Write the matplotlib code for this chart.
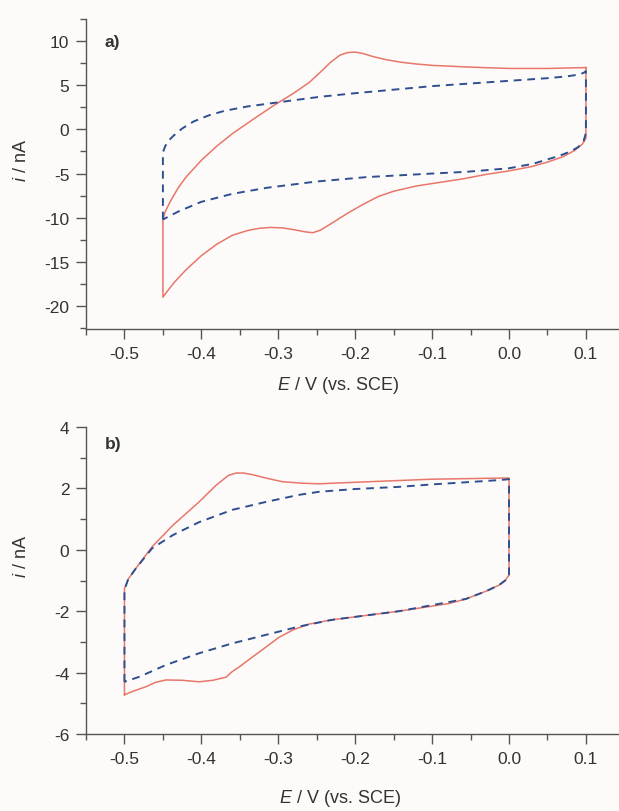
import matplotlib
matplotlib.use("Agg")
import matplotlib.pyplot as plt
from matplotlib.ticker import MultipleLocator, FormatStrFormatter

plt.rcParams['font.family'] = ['Liberation Sans', 'DejaVu Sans']
plt.rcParams['mathtext.fontset'] = 'custom'
plt.rcParams['mathtext.it'] = 'Liberation Sans:italic'
plt.rcParams['mathtext.rm'] = 'Liberation Sans'
plt.rcParams['axes.unicode_minus'] = False

# ---- Panel a) ----
a_red_E = [0.1, 0.1, 0.095, 0.085, 0.07, 0.05, 0.03, 0.0, -0.03, -0.06, -0.09, -0.12, -0.15, -0.17,
           -0.19, -0.21, -0.23, -0.245, -0.255, -0.265, -0.28, -0.295, -0.31, -0.325, -0.34,
           -0.36, -0.38, -0.40, -0.42, -0.435, -0.445, -0.45,
           -0.45, -0.447, -0.44, -0.43, -0.42, -0.40, -0.38, -0.36, -0.33, -0.306, -0.28, -0.26,
           -0.245, -0.232, -0.22, -0.21, -0.2, -0.19, -0.177, -0.16, -0.14, -0.12, -0.1, -0.05,
           0.0, 0.05, 0.1]
a_red_i = [7.0, -1.0, -1.7, -2.4, -3.1, -3.7, -4.2, -4.7, -5.1, -5.6, -6.0, -6.4, -7.0, -7.6,
           -8.5, -9.5, -10.6, -11.4, -11.7, -11.6, -11.35, -11.15, -11.1, -11.2, -11.45,
           -12.0, -13.0, -14.3, -15.9, -17.3, -18.4, -19.0,
           -10.2, -9.3, -8.1, -6.6, -5.4, -3.5, -1.9, -0.5, 1.3, 2.7, 4.1, 5.3,
           6.5, 7.6, 8.4, 8.7, 8.75, 8.6, 8.25, 7.9, 7.6, 7.4, 7.25, 7.05,
           6.9, 6.9, 7.0]

a_blue_E = [-0.45, -0.45, -0.447, -0.443, -0.436, -0.425, -0.41, -0.39, -0.37, -0.34, -0.314,
            -0.28, -0.245, -0.2, -0.15, -0.1, -0.05, 0.0, 0.05, 0.075, 0.09, 0.097, 0.1,
            0.1, 0.097, 0.09, 0.08, 0.065, 0.05, 0.031, 0.0, -0.055, -0.1, -0.185, -0.25, -0.314,
            -0.36, -0.40, -0.43, -0.45]
a_blue_i = [-10.2, -2.6, -1.9, -1.3, -0.7, 0.1, 0.9, 1.6, 2.1, 2.6, 2.9,
            3.3, 3.7, 4.1, 4.5, 4.9, 5.2, 5.5, 5.8, 6.0, 6.2, 6.4, 6.6,
            -0.4, -1.3, -2.0, -2.5, -3.0, -3.4, -3.9, -4.4, -4.8, -5.0, -5.4, -5.9, -6.6,
            -7.3, -8.2, -9.3, -10.2]

# ---- Panel b) ----
b_red_E = [-0.5, -0.5, -0.495, -0.485, -0.464, -0.437, -0.403, -0.381, -0.365, -0.355, -0.345,
           -0.334, -0.315, -0.295, -0.27, -0.247, -0.2, -0.1, 0.0,
           0.0, -0.005, -0.013, -0.03, -0.056, -0.078, -0.143, -0.23, -0.26, -0.28, -0.299,
           -0.315, -0.334, -0.35, -0.36, -0.368, -0.385, -0.403, -0.425, -0.446, -0.46, -0.472,
           -0.488, -0.5]
b_red_i = [-4.72, -1.27, -0.95, -0.6, 0.1, 0.8, 1.56, 2.1, 2.42, 2.5, 2.5,
           2.45, 2.33, 2.22, 2.17, 2.15, 2.2, 2.3, 2.34,
           -0.82, -1.0, -1.15, -1.35, -1.6, -1.75, -2.0, -2.28, -2.42, -2.6, -2.85,
           -3.15, -3.5, -3.8, -3.97, -4.15, -4.25, -4.3, -4.25, -4.24, -4.32, -4.46,
           -4.6, -4.72]

b_blue_E = [-0.5, -0.5, -0.495, -0.485, -0.464, -0.437, -0.403, -0.36, -0.316, -0.273, -0.247,
            -0.2, -0.143, -0.1, -0.056, -0.013, 0.0,
            0.0, -0.005, -0.013, -0.03, -0.056, -0.143, -0.23, -0.273, -0.316, -0.36, -0.403,
            -0.446, -0.48, -0.5]
b_blue_i = [-4.3, -1.3, -0.95, -0.6, 0.05, 0.48, 0.9, 1.3, 1.56, 1.79, 1.89,
            1.98, 2.05, 2.13, 2.2, 2.27, 2.3,
            -0.85, -1.0, -1.15, -1.35, -1.6, -2.0, -2.28, -2.5, -2.77, -3.05, -3.37,
            -3.75, -4.13, -4.3]

x_ticks = [-0.5, -0.4, -0.3, -0.2, -0.1, 0.0, 0.1]
a_yticks = [-20, -15, -10, -5, 0, 5, 10]
b_yticks = [-6, -4, -2, 0, 2, 4]

RED = '#e8766a'
BLUE = '#2f4f8f'
BG = '#fdfbf9'
SPINE = '#555555'
TXT = '#333333'

fig = plt.figure(figsize=(6.19, 8.12), dpi=100, facecolor=BG)
W, H = 619.0, 812.0

def make_ax(left, right, top, bottom):
    return fig.add_axes([left / W, 1 - bottom / H, (right - left) / W, (bottom - top) / H])

ax1 = make_ax(86, 619, 20, 330)
ax2 = make_ax(86, 619, 428, 735)

TS = 12.5
LS = 13
for ax in (ax1, ax2):
    ax.set_facecolor(BG)
    for s in ('top', 'right'):
        ax.spines[s].set_visible(False)
    for s in ('left', 'bottom'):
        ax.spines[s].set_color(SPINE)
        ax.spines[s].set_linewidth(1.0)
    ax.set_xlim(-0.55, 0.143)
    ax.set_xticks(x_ticks)
    ax.xaxis.set_major_formatter(FormatStrFormatter('%.1f'))
    ax.xaxis.set_minor_locator(MultipleLocator(0.05))
    ax.tick_params(which='major', direction='out', length=7, width=1.0, color=SPINE,
                   labelsize=TS, labelcolor=TXT, pad=5)
    ax.tick_params(which='minor', direction='out', length=4, width=1.0, color=SPINE)
    ax.set_xlabel(r'$\it{E}$ / V (vs. SCE)', fontsize=LS, color=TXT)
    ax.set_ylabel(r'$\it{i}$ / nA', fontsize=LS, color=TXT)

ax1.xaxis.set_label_coords((338 - 86) / 533.0, -(386 - 330) / 310.0)
ax1.yaxis.set_label_coords((22 - 86) / 533.0, (330 - 161) / 310.0)
ax2.xaxis.set_label_coords((340 - 86) / 533.0, -(799 - 735) / 307.0)
ax2.yaxis.set_label_coords((22 - 86) / 533.0, (735 - 557) / 307.0)
for ax in (ax1, ax2):
    ax.xaxis.label.set_va('center')
    ax.yaxis.label.set_va('center')

ax1.plot(a_red_E, a_red_i, color=RED, lw=1.1, solid_joinstyle='round')
ax1.plot(a_blue_E, a_blue_i, color=BLUE, lw=1.4, ls=(0, (4, 3)))
ax1.set_ylim(-22.6, 12.5)
ax1.set_yticks(a_yticks)
ax1.yaxis.set_minor_locator(MultipleLocator(2.5))
ax1.text(-0.526, 10.0, 'a)', fontsize=TS, fontweight='bold', color=TXT, va='center', ha='left')

ax2.plot(b_red_E, b_red_i, color=RED, lw=1.1, solid_joinstyle='round')
ax2.plot(b_blue_E, b_blue_i, color=BLUE, lw=1.4, ls=(0, (4, 3)))
ax2.set_ylim(-6, 4)
ax2.set_yticks(b_yticks)
ax2.yaxis.set_minor_locator(MultipleLocator(1))
ax2.text(-0.526, 3.45, 'b)', fontsize=TS, fontweight='bold', color=TXT, va='center', ha='left')

fig.savefig('out.png', dpi=100, facecolor=BG)
